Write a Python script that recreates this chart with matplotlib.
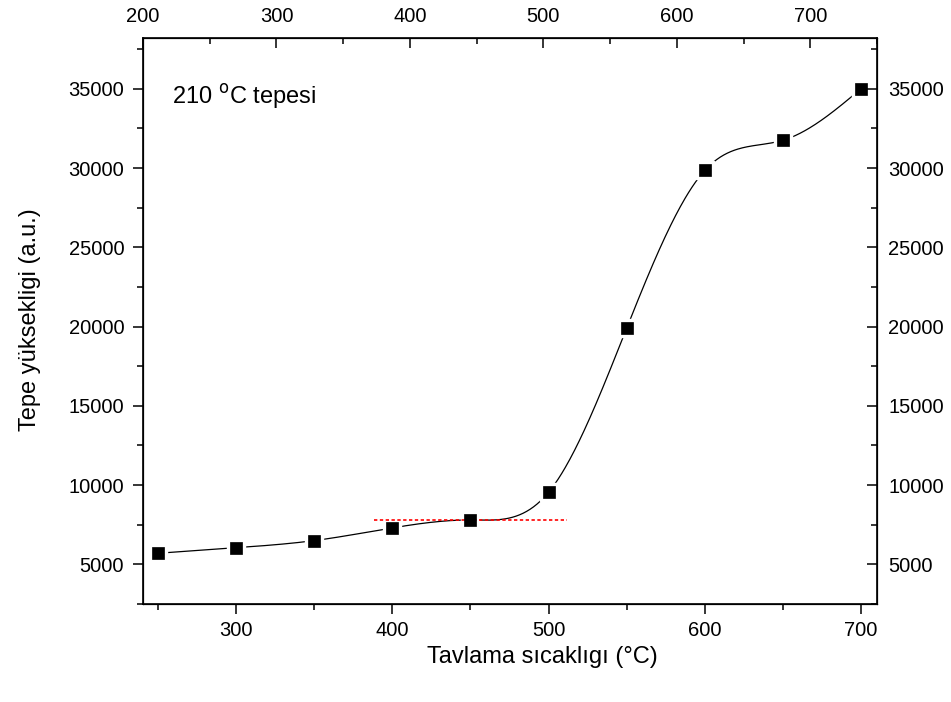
import numpy as np
import matplotlib
matplotlib.use("Agg")
import matplotlib.pyplot as plt

plt.rcParams['font.family'] = ['Liberation Sans', 'DejaVu Sans']

# data
temps = [250, 300, 350, 400, 450, 500, 550, 600, 650, 700]
heights = [5700, 6050, 6500, 7300, 7800, 9550, 19900, 29850, 31750, 35000]
ref_level = 7800
ref_x = [388, 512]

x_ticks = [300, 400, 500, 600, 700]
top_ticks = [200, 300, 400, 500, 600, 700]
y_ticks = [5000, 10000, 15000, 20000, 25000, 30000, 35000]


def natural_spline(x, y, xs):
    x = np.asarray(x, float); y = np.asarray(y, float)
    n = len(x)
    h = np.diff(x)
    A = np.zeros((n, n)); b = np.zeros(n)
    A[0, 0] = 1; A[-1, -1] = 1
    for i in range(1, n - 1):
        A[i, i - 1] = h[i - 1]
        A[i, i] = 2 * (h[i - 1] + h[i])
        A[i, i + 1] = h[i]
        b[i] = 6 * ((y[i + 1] - y[i]) / h[i] - (y[i] - y[i - 1]) / h[i - 1])
    M = np.linalg.solve(A, b)
    out = np.empty_like(xs)
    for k, xv in enumerate(xs):
        i = min(max(np.searchsorted(x, xv) - 1, 0), n - 2)
        t1 = x[i + 1] - xv; t0 = xv - x[i]
        out[k] = (M[i] * t1 ** 3 + M[i + 1] * t0 ** 3) / (6 * h[i]) \
            + (y[i] / h[i] - M[i] * h[i] / 6) * t1 \
            + (y[i + 1] / h[i] - M[i + 1] * h[i] / 6) * t0
    return out


W, H = 951, 702
fig = plt.figure(figsize=(W / 100, H / 100), dpi=100)
L, R, T, B = 143, 877, 38, 604
ax = fig.add_axes([L / W, 1 - B / H, (R - L) / W, (B - T) / H])

xs = np.linspace(temps[0], temps[-1], 600)
ys = natural_spline(temps, heights, xs)
ax.plot(xs, ys, color='black', lw=0.9, zorder=1)
ax.plot(temps, heights, 's', color='white', ms=13, mec='white', zorder=2)
ax.plot(ref_x, [ref_level, ref_level], color='red', lw=1.2,
        ls=(0, (2, 1.5)), zorder=3)
ax.plot(temps, heights, 's', color='black', ms=8.5, mec='black', mew=0.5, zorder=4)

ax.set_xlim(240.4, 710.2)
ax.set_ylim(2500, 38200)
ax.set_xticks(x_ticks)
ax.set_xticks([250, 350, 450, 550, 650], minor=True)
ax.set_yticks(y_ticks)
ax.set_yticks([2500, 7500, 12500, 17500, 22500, 27500, 32500, 37500], minor=True)
ax.tick_params(axis='both', which='major', direction='out', length=7, width=1.1,
               labelsize=14.5)
ax.tick_params(axis='x', which='major', pad=5)
ax.tick_params(axis='y', which='major', pad=6.5)
ax.tick_params(axis='both', which='minor', direction='out', length=4.5, width=1.1)
ax.tick_params(top=False, right=False)
for s in ax.spines.values():
    s.set_linewidth(1.2)

ax_t = ax.twiny()
ax_t.set_xlim(200, 750)
ax_t.set_xticks(top_ticks)
ax_t.set_xticks([250, 350, 450, 550, 650, 750], minor=True)
ax_t.tick_params(axis='x', which='major', direction='in', length=7, width=1.1,
                 labelsize=14.5, pad=9)
ax_t.tick_params(axis='x', which='minor', direction='in', length=4.5, width=1.1)

ax_r = ax.twinx()
ax_r.set_ylim(2500, 38200)
ax_r.set_yticks(y_ticks)
ax_r.set_yticks([2500, 7500, 12500, 17500, 22500, 27500, 32500, 37500], minor=True)
ax_r.tick_params(axis='y', which='major', direction='in', length=7, width=1.1,
                 labelsize=14.5, pad=8)
ax_r.tick_params(axis='y', which='minor', direction='in', length=4.5, width=1.1)

ax.set_xlabel('Tavlama sıcaklıgı (°C)', fontsize=17)
ax.xaxis.set_label_coords((542 - L) / (R - L), -(657 - B) / (B - T))
ax.xaxis.label.set_va('center')
ax.set_ylabel('Tepe yüksekligi (a.u.)', fontsize=17)
ax.yaxis.set_label_coords((30 - L) / (R - L), 1 - (320 - T) / (B - T))
ax.yaxis.label.set_va('center')

ax.text((172 - L) / (R - L), 1 - (97 - T) / (B - T), '210 $^{\\rm o}$C tepesi',
        transform=ax.transAxes, fontsize=17, va='center', ha='left')

fig.savefig('out.png', dpi=100)
